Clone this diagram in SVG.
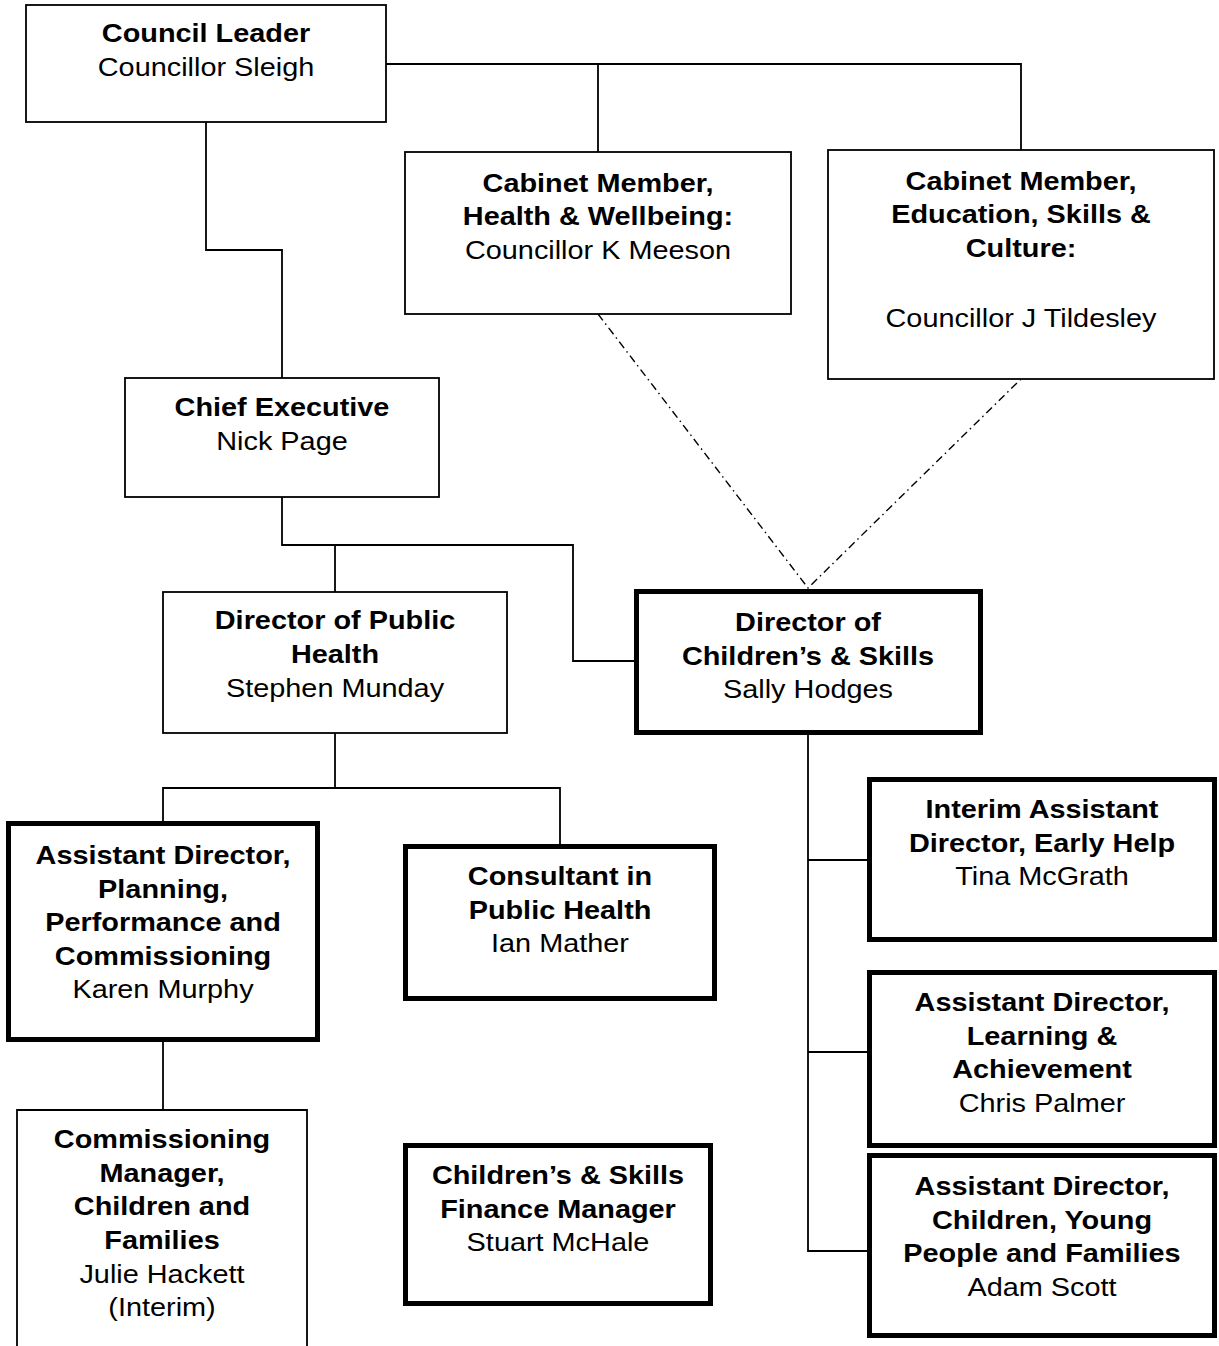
<svg xmlns="http://www.w3.org/2000/svg" width="1219" height="1346" viewBox="0 0 1219 1346">
<style>
.thin{fill:#fff;stroke:#000;stroke-width:1.8}
.thick{fill:#fff;stroke:#000;stroke-width:5}
.c{fill:none;stroke:#000;stroke-width:1.8}
.dd{fill:none;stroke:#000;stroke-width:1.4;stroke-dasharray:8 4 1.5 4}
text{font-family:"Liberation Sans",Arial,sans-serif;font-size:26px;text-anchor:middle;fill:#000}
.b{font-weight:bold}
</style>
<rect width="1219" height="1346" fill="#fff"/>
<g id="connectors">
<path class="c" d="M206,122 V250 H282 V378"/>
<path class="c" d="M386,64 H1021 V150 M598,64 V152"/>
<path class="c" d="M282,497 V545 H573 V661 H634 M335,545 V592"/>
<path class="c" d="M335,733 V788 M163,821 V788 H560 V844"/>
<path class="c" d="M163,1024 V1110"/>
<path class="c" d="M808,735 V1251 H867 M808,860 H867 M808,1052 H867"/>
<path class="dd" d="M598,314 L808,588 L1021,379"/>
</g>
<g id="council-leader">
<rect class="thin" x="26" y="5" width="360" height="117"/>
<g transform="translate(206,0) scale(1.11,1)"><text x="0" y="42.5" class="b">Council Leader</text><text x="0" y="76">Councillor Sleigh</text></g>
</g>
<g id="cabinet-health">
<rect class="thin" x="405" y="152" width="386" height="162"/>
<g transform="translate(598,0) scale(1.11,1)"><text x="0" y="192" class="b">Cabinet Member,</text><text x="0" y="225.5" class="b">Health &amp; Wellbeing:</text><text x="0" y="259">Councillor K Meeson</text></g>
</g>
<g id="cabinet-education">
<rect class="thin" x="828" y="150" width="386" height="229"/>
<g transform="translate(1021,0) scale(1.11,1)"><text x="0" y="190" class="b">Cabinet Member,</text><text x="0" y="223.5" class="b">Education, Skills &amp;</text><text x="0" y="257" class="b">Culture:</text><text x="0" y="327">Councillor J Tildesley</text></g>
</g>
<g id="chief-executive">
<rect class="thin" x="125" y="378" width="314" height="119"/>
<g transform="translate(282,0) scale(1.11,1)"><text x="0" y="416.5" class="b">Chief Executive</text><text x="0" y="450">Nick Page</text></g>
</g>
<g id="director-public-health">
<rect class="thin" x="163" y="592" width="344" height="141"/>
<g transform="translate(335,0) scale(1.11,1)"><text x="0" y="629.5" class="b">Director of Public</text><text x="0" y="663" class="b">Health</text><text x="0" y="697">Stephen Munday</text></g>
</g>
<g id="director-childrens">
<rect class="thick" x="636.5" y="591.5" width="344" height="141"/>
<g transform="translate(808,0) scale(1.11,1)"><text x="0" y="631.5" class="b">Director of</text><text x="0" y="665" class="b">Children’s &amp; Skills</text><text x="0" y="698.5">Sally Hodges</text></g>
</g>
<g id="ad-planning">
<rect class="thick" x="8.5" y="823.5" width="309" height="216"/>
<g transform="translate(163,0) scale(1.11,1)"><text x="0" y="864.5" class="b">Assistant Director,</text><text x="0" y="898" class="b">Planning,</text><text x="0" y="931.5" class="b">Performance and</text><text x="0" y="965" class="b">Commissioning</text><text x="0" y="998.5">Karen Murphy</text></g>
</g>
<g id="consultant-public-health">
<rect class="thick" x="405.5" y="846.5" width="309" height="152"/>
<g transform="translate(560,0) scale(1.11,1)"><text x="0" y="885.5" class="b">Consultant in</text><text x="0" y="919" class="b">Public Health</text><text x="0" y="952.5">Ian Mather</text></g>
</g>
<g id="commissioning-manager">
<path class="thin" d="M17,1350 V1110 H307 V1350"/>
<g transform="translate(162,0) scale(1.11,1)"><text x="0" y="1148.5" class="b">Commissioning</text><text x="0" y="1182" class="b">Manager,</text><text x="0" y="1215.5" class="b">Children and</text><text x="0" y="1249" class="b">Families</text><text x="0" y="1282.5">Julie Hackett</text><text x="0" y="1316">(Interim)</text></g>
</g>
<g id="finance-manager">
<rect class="thick" x="405.5" y="1145.5" width="305" height="158"/>
<g transform="translate(558,0) scale(1.11,1)"><text x="0" y="1184.5" class="b">Children’s &amp; Skills</text><text x="0" y="1218" class="b">Finance Manager</text><text x="0" y="1251.5">Stuart McHale</text></g>
</g>
<g id="interim-ad-early-help">
<rect class="thick" x="869.5" y="779.5" width="345" height="160"/>
<g transform="translate(1042,0) scale(1.11,1)"><text x="0" y="818.5" class="b">Interim Assistant</text><text x="0" y="852" class="b">Director, Early Help</text><text x="0" y="885.5">Tina McGrath</text></g>
</g>
<g id="ad-learning">
<rect class="thick" x="869.5" y="972.5" width="345" height="173"/>
<g transform="translate(1042,0) scale(1.11,1)"><text x="0" y="1011.5" class="b">Assistant Director,</text><text x="0" y="1045" class="b">Learning &amp;</text><text x="0" y="1078.5" class="b">Achievement</text><text x="0" y="1112">Chris Palmer</text></g>
</g>
<g id="ad-children-families">
<rect class="thick" x="869.5" y="1155.5" width="345" height="180"/>
<g transform="translate(1042,0) scale(1.11,1)"><text x="0" y="1195.5" class="b">Assistant Director,</text><text x="0" y="1229" class="b">Children, Young</text><text x="0" y="1262.5" class="b">People and Families</text><text x="0" y="1296">Adam Scott</text></g>
</g>
</svg>
